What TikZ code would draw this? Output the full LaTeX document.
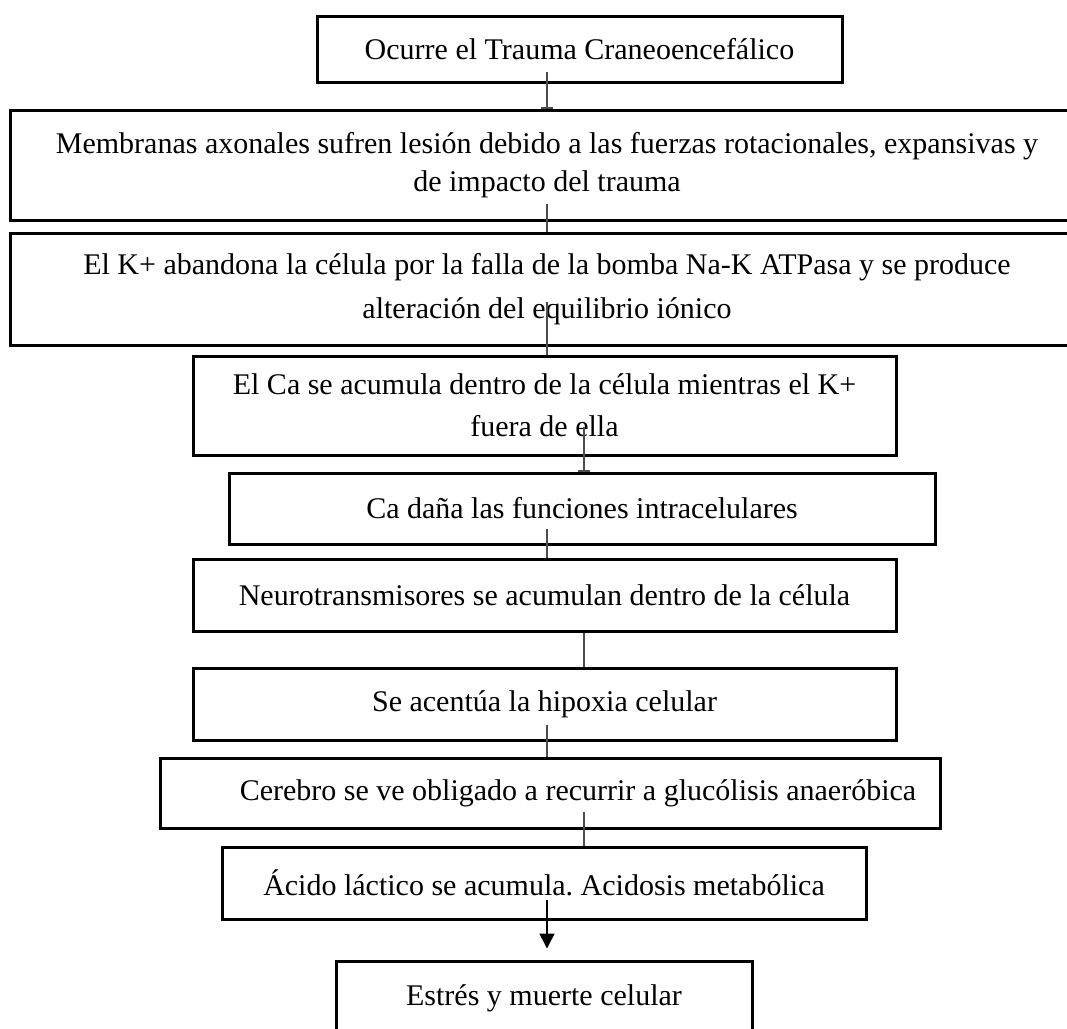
\documentclass[tikz,border=0pt]{standalone}
\usepackage{fontspec}
\setmainfont{Liberation Serif}
\frenchspacing
\usetikzlibrary{arrows.meta,calc}
\tikzset{box/.style={draw=black,line width=3pt,align=center,inner sep=0pt,font=\fontsize{30}{38}\selectfont},link/.style={draw=black!70,line width=1.2pt},tick/.style={link,-{Bar[width=12pt,line width=1.6pt]}},arrow/.style={draw=black,line width=1.4pt,-{Triangle[width=15pt,length=15pt]}}}

\begin{document}
\begin{tikzpicture}[x=1pt,y=1pt]
\useasboundingbox (0,0) rectangle (1067,-1028);
\clip (0,0) rectangle (1067,-1028);
\coordinate (spine) at (547,0);
\coordinate (spineR) at (584,0);
\node[box,minimum width=525pt,minimum height=66pt] (c1) at (579.5,-49) {Ocurre el Trauma Craneoencefálico};
\node[box,minimum width=1074pt,minimum height=110pt] (c2) at (547,-165) {Membranas axonales sufren lesión debido a las fuerzas rotacionales, expansivas y\\de impacto del trauma};
\node[box,minimum width=1074pt,minimum height=112pt] (c3) at (547,-289) {El K+ abandona la célula por la falla de la bomba Na-K ATPasa y se produce\\[6pt]alteración del equilibrio iónico};
\node[box,minimum width=703pt,minimum height=99pt] (c4) at (544.5,-405.5) {El Ca se acumula dentro de la célula mientras el K+\\[4pt]fuera de ella};
\node[box,minimum width=706pt,minimum height=71pt] (c5) at (582,-508.5) {Ca daña las funciones intracelulares};
\node[box,minimum width=703pt,minimum height=72pt] (c6) at (544.5,-595) {Neurotransmisores se acumulan dentro de la célula};
\node[box,minimum width=703pt,minimum height=72pt] (c7) at (544.5,-704) {Se acentúa la hipoxia celular};
\node[box,minimum width=780pt,minimum height=70pt] (c8) at (550,-793) {\hspace*{56pt}Cerebro se ve obligado a recurrir a glucólisis anaeróbica};
\node[box,minimum width=644pt,minimum height=72pt] (c9) at (544,-883) {Ácido láctico se acumula. Acidosis metabólica};
\node[box,minimum width=416pt,minimum height=74pt] (c10) at (544,-998) {Estrés y muerte celular};
% conectores
\draw[tick] ($(c1.south -| spine)+(0,12)$) -- (spine |- c2.north);
\foreach \a/\b/\s/\o in {c2/c3/spine/18,c3/c4/spine/45,c5/c6/spine/17,c6/c7/spineR/0,c7/c8/spine/17,c8/c9/spineR/18}{\draw[link] ($(\a.south -| \s)+(0,\o)$) -- (\s |- \b.north);}
\draw[tick] ($(c4.south -| spineR)+(0,30)$) -- (spineR |- c5.north);
\draw[arrow] ($(c9.south -| spine)+(0,21)$) -- ($(spine |- c10.north)+(0,11)$);
\end{tikzpicture}
\end{document}
